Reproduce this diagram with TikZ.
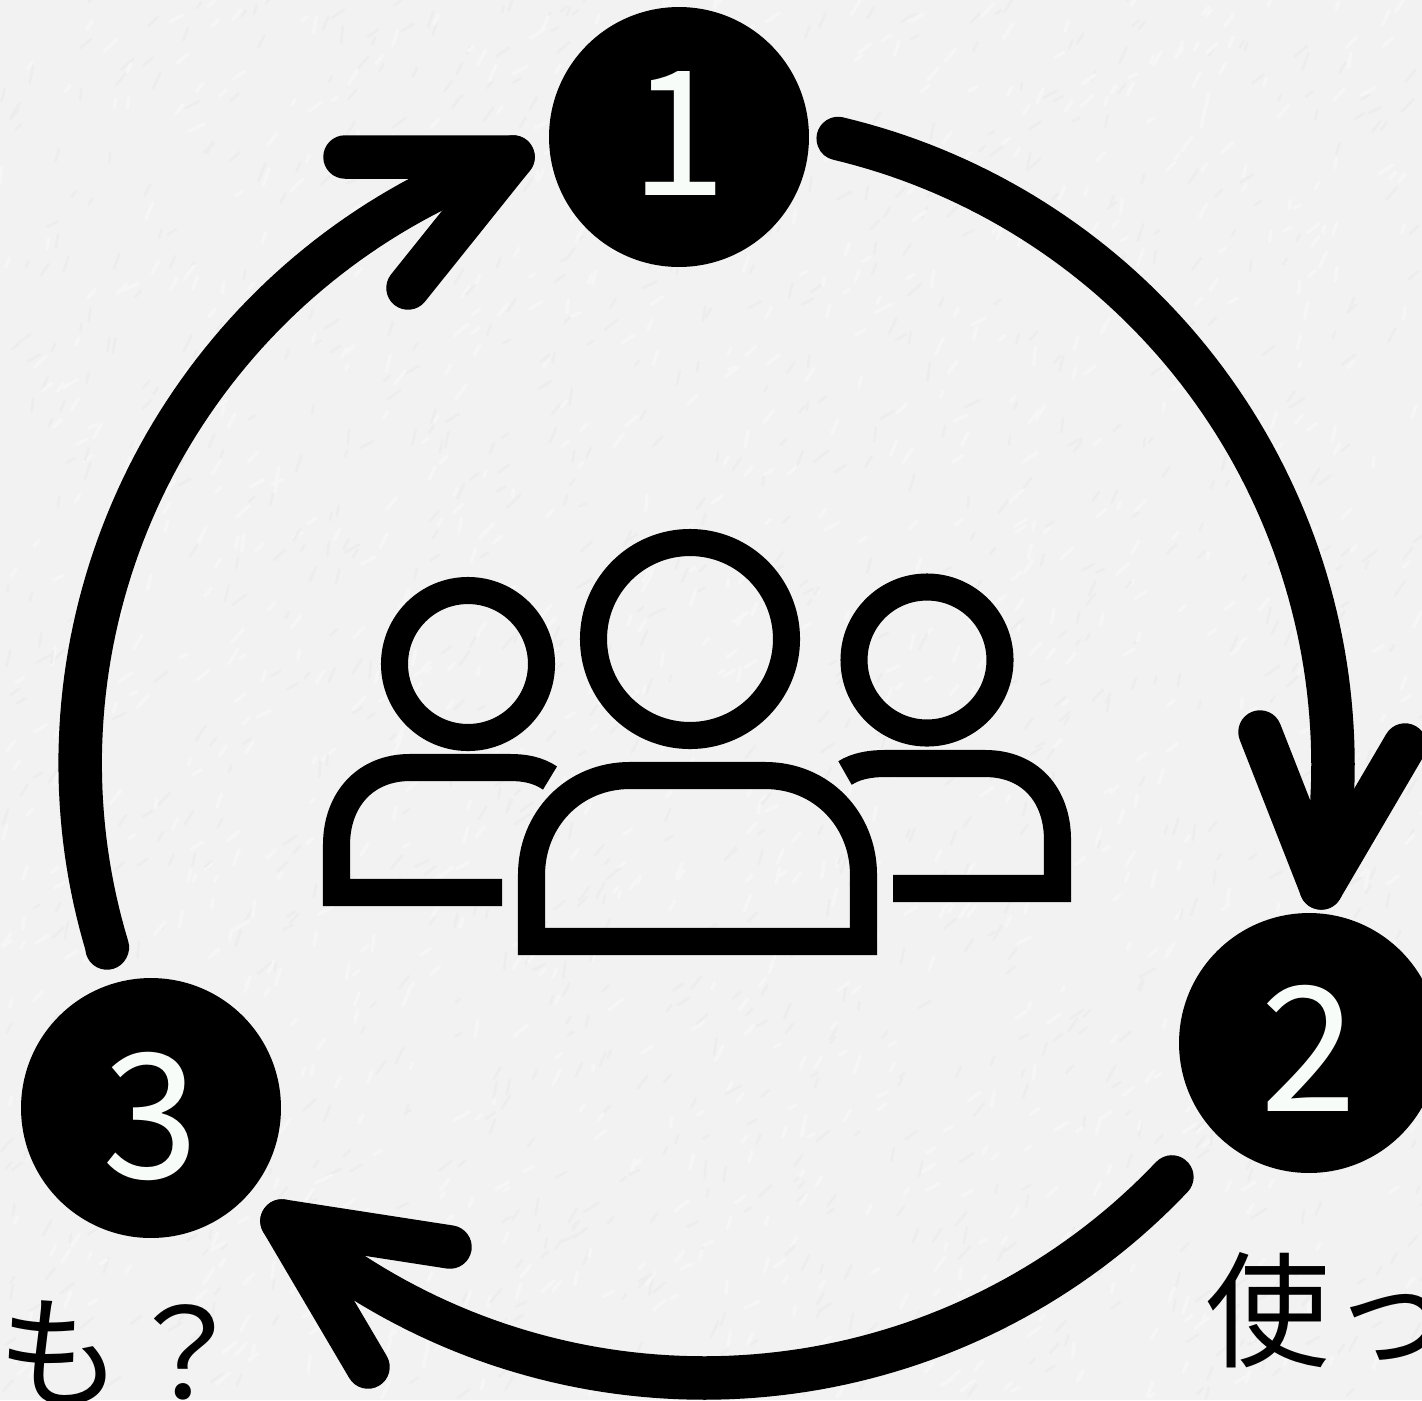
\documentclass[tikz,border=0pt]{standalone}
\usepackage{fontspec}
\newfontfamily\jpfont{Noto Sans CJK JP}
\definecolor{paper}{HTML}{F2F2F2}
\definecolor{paperlight}{HTML}{F6F6F6}
\definecolor{paperdark}{HTML}{EDEDED}
\definecolor{digit}{HTML}{F7FCF8}
\tikzset{
  stepnode/.style={circle,fill=black,draw=none,minimum size=5.2cm,inner sep=0pt,text=digit,font=\jpfont\fontsize{99}{99}\selectfont},
  ring/.style={draw=black,line width=0.87cm,line cap=round,line join=round},
  icon/.style={draw=black,line width=15.4pt,line cap=butt,miter limit=10},
  caption/.style={text=black,inner sep=0pt,anchor=base west,font=\jpfont\fontsize{71}{71}\selectfont}
}
\begin{document}
\begin{tikzpicture}[x=0.02cm,y=-0.02cm]
\fill[paper] (0,0) rectangle (1422,1400);
\useasboundingbox (0,0) rectangle (1422,1400);
% paper grain
\pgfmathsetseed{7}
\begin{scope}
\clip (0,0) rectangle (1422,1400);
\foreach \i in {1,...,1100}{
  \pgfmathsetmacro{\px}{1422*rnd}
  \pgfmathsetmacro{\py}{1400*rnd}
  \pgfmathsetmacro{\pl}{6+12*rnd}
  \pgfmathsetmacro{\pa}{25+60*rnd}
  \draw[paperlight,line width=2pt,line cap=round] (\px,\py) -- ++(\pl*cos \pa,-\pl*sin \pa);
  \pgfmathsetmacro{\qx}{1422*rnd}
  \pgfmathsetmacro{\qy}{1400*rnd}
  \draw[paperdark,line width=1.4pt,line cap=round] (\qx,\qy) -- ++(\pl*cos \pa,-\pl*sin \pa);
}
\end{scope}
% captions
\node[caption] (capa) at (1205,1357) {使っ};
\node[caption] (capb) at (-2.5,1399) {も？};
% step circles
\node[stepnode,text height=67.1pt,text depth=0pt] (n1) at (679,137) {1};
\node[stepnode,text height=78.5pt,text depth=0pt] (n2) at (1309,1043) {2};
\node[stepnode,text height=79.7pt,text depth=0pt] (n3) at (151,1108) {3};
% connector ends
\coordinate (s12) at (838.2,138.5);
\coordinate (t12) at (1321.2,887.9);
\coordinate (h12a) at (1260,732);
\coordinate (h12b) at (1405,745);
\coordinate (s23) at (1171.8,1177);
\coordinate (t23) at (282,1221);
\coordinate (h23a) at (450,1247);
\coordinate (h23b) at (368,1367);
\coordinate (s31) at (107,948);
\coordinate (t31) at (513,157);
\coordinate (h31a) at (345,157);
\coordinate (h31b) at (408,288);
% connectors
\draw[ring] (s12) -- plot[domain=-76.6:11,samples=80] ({689+644*cos(\x)},{765+644*sin(\x)}) -- (t12);
\draw[ring] (h12a) -- (t12) -- (h12b);
\draw[ring] (s23) -- plot[domain=43.5:130.8,samples=80] ({704+645*cos(\x)},{733+645*sin(\x)}) -- (t23);
\draw[ring] (h23a) -- (t23) -- (h23b);
\draw[ring] (s31) -- plot[domain=-1:1,samples=80] ({746+(671+3*\x-8*\x*\x)*cos(207.45+42.05*\x)},{781+(671+3*\x-8*\x*\x)*sin(207.45+42.05*\x)}) -- (t31);
\draw[ring] (h31a) -- (t31) -- (h31b);
% people icon
\draw[icon] (468,664) circle (73.5);
\draw[icon] (690,639) circle (96.5);
\draw[icon] (927,660) circle (73);
\draw[icon] (502,892.5) -- (336.5,892.5) -- (336.5,845) .. controls (336.5,800) and (365,767.5) .. (410,767.5) -- (510,767.5) .. controls (525,767.5) and (538,770) .. (550,778);
\draw[icon] (893,888.5) -- (1057.5,888.5) -- (1057.5,840) .. controls (1057.5,795) and (1030,763.5) .. (985,763.5) -- (885,763.5) .. controls (870,763.5) and (856,766) .. (845,773);
\draw[icon] (531.5,941.5) -- (863.5,941.5) -- (863.5,875) .. controls (863.5,820) and (822,775.5) .. (765,775.5) -- (630,775.5) .. controls (573,775.5) and (531.5,820) .. (531.5,875) -- cycle;
\end{tikzpicture}
\end{document}
